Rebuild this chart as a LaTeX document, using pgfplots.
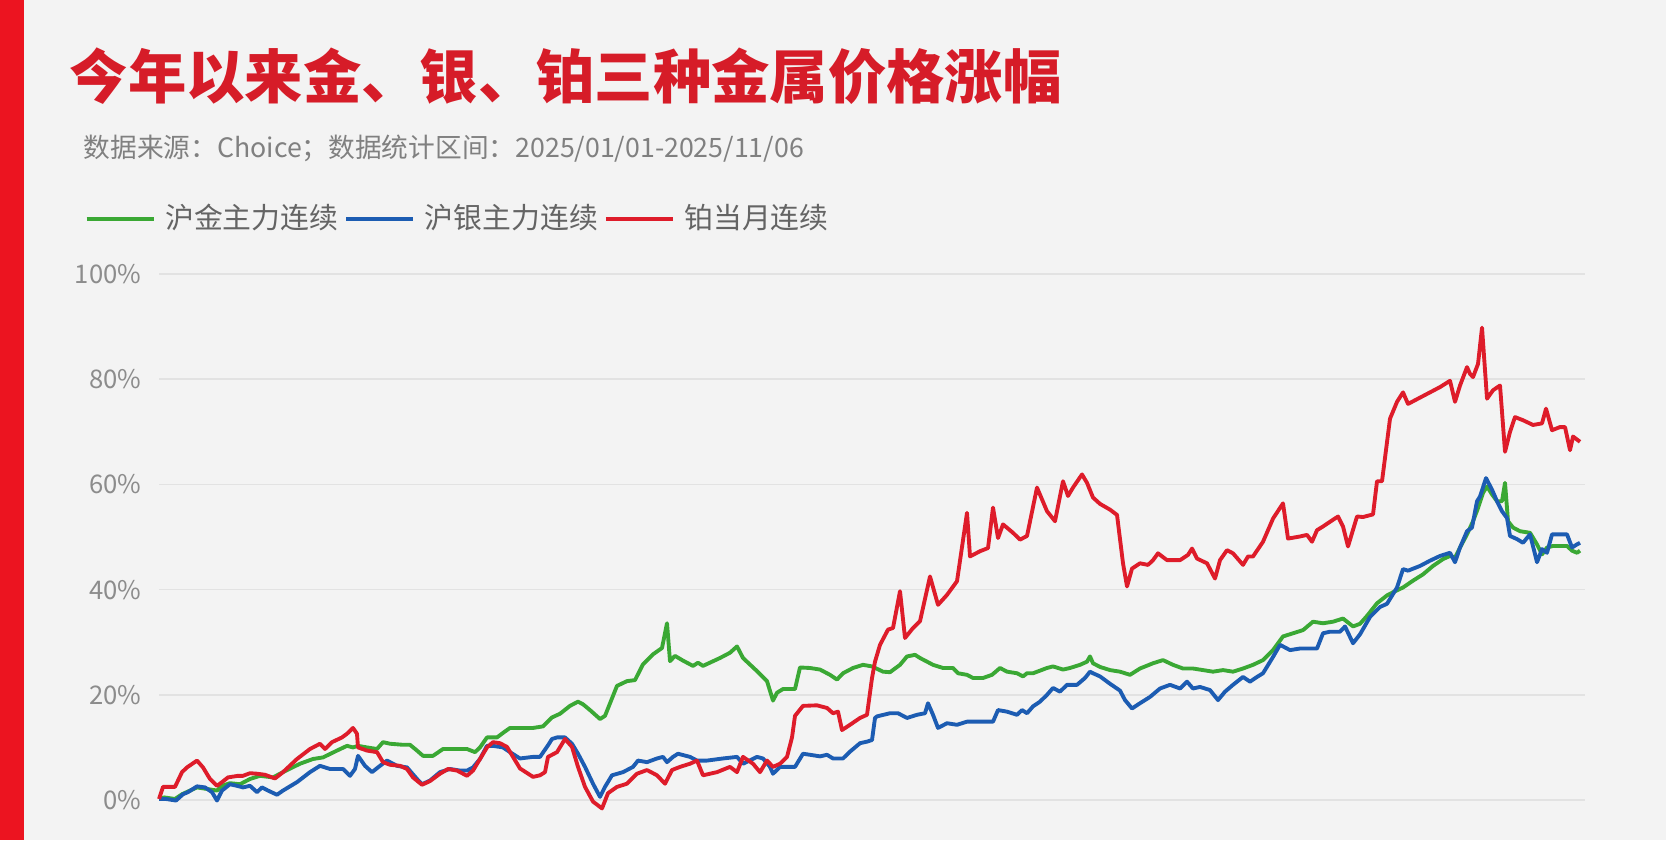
\documentclass[border=0pt]{standalone}
\usepackage{fontspec}
\setmainfont{Noto Sans CJK SC}
\usepackage{pgfplots}
\pgfplotsset{compat=1.18}
\definecolor{bgc}{RGB}{243,243,243}
\definecolor{barred}{RGB}{236,20,32}
\definecolor{titlered}{RGB}{214,28,40}
\definecolor{subgray}{RGB}{128,128,128}
\definecolor{leggray}{RGB}{100,100,100}
\definecolor{tickgray}{RGB}{140,140,140}
\definecolor{gridc}{RGB}{226,226,226}
\definecolor{gold}{RGB}{58,168,52}
\definecolor{silver}{RGB}{28,92,178}
\definecolor{plat}{RGB}{222,28,42}
\begin{document}
\begin{tikzpicture}[x=1cm,y=1cm]
\fill[bgc] (0,0) rectangle (16.66,8.40);
\fill[barred] (0,0) rectangle (0.24,8.40);
\node[anchor=west, inner sep=0pt, text=titlered, font=\fontsize{16.6pt}{18pt}\selectfont\bfseries] at (0.69,7.635) {今年以来金、银、铂三种金属价格涨幅};
\node[anchor=west, inner sep=0pt, text=subgray, font=\fontsize{7.6pt}{8.4pt}\selectfont] at (0.83,6.91) {数据来源：Choice；数据统计区间：2025/01/01-2025/11/06};
\begin{axis}[
  at={(1.59cm,0cm)}, anchor=south west,
  scale only axis, width=14.26cm, height=5.66cm,
  xmin=0, xmax=1426, ymin=-7.6, ymax=100,
  axis line style={draw=none}, tick style={draw=none}, major tick length=0pt,
  xtick=\empty, ytick={0,20,40,60,80,100},
  ymajorgrids, grid style={gridc, line width=0.5pt},
  /pgf/number format/assume math mode=true,
  yticklabel={\pgfmathprintnumber{\tick}\%},
  yticklabel style={font=\fontsize{7.3pt}{8pt}\selectfont, text=tickgray, inner sep=0pt, xshift=-0.17cm},
  clip=false,
  legend style={at={(-0.0527,1.0972)}, anchor=west, draw=none, fill=none, inner sep=0pt,
    font=\fontsize{8.2pt}{9pt}\selectfont, text=leggray, legend columns=3,
    nodes={inner sep=0pt},
    /tikz/every odd column/.append style={column sep=0.095cm},
    /tikz/every even column/.append style={column sep=0.06cm}},
  legend cell align=left,
  legend image code/.code={\draw[#1, line width=1.2pt] (0cm,0cm) -- (0.67cm,0cm);},
  every axis plot/.append style={line width=1.1pt, line join=round}
]
\addplot[gold, mark=none] coordinates {
(0,0.2)(5,0.5)(16,0.2)(23,1.1)(38,2.4)(48,2.1)(58,1.8)(63,2.7)(71,3.2)(81,3.0)(91,4.0)(101,4.6)(114,4.3)(124,5.3)(141,6.9)(154,7.8)(164,8.1)(178,9.4)(188,10.3)(194,10.0)(199,10.3)(208,10.0)(218,9.7)(224,11.0)(231,10.7)(244,10.5)(251,10.5)(258,9.4)(264,8.4)(274,8.4)(284,9.7)(294,9.7)(308,9.7)(316,9.1)(321,10.0)(328,11.9)(338,11.9)(345,12.9)
(351,13.7)(361,13.7)(374,13.7)(384,14.0)(393,15.7)(401,16.4)(411,17.9)(419,18.7)(424,18.2)(431,17.1)(441,15.4)(446,16.0)(458,21.7)(468,22.6)(476,22.8)(484,25.8)(494,27.7)(503,28.9)(508,33.6)(511,26.4)(516,27.4)(524,26.5)(534,25.5)(539,26.1)(544,25.5)(561,27.0)(571,28.0)(578,29.2)(584,27.0)(598,24.5)(608,22.6)(614,18.9)(618,20.4)(624,21.1)(636,21.1)(641,25.2)(651,25.1)(661,24.8)(671,23.8)(678,22.9)(684,24.1)(694,25.1)(704,25.7)(713,25.4)(724,24.4)(731,24.3)(741,25.7)(748,27.3)(756,27.6)(761,27.0)(768,26.3)(774,25.7)(784,25.1)(794,25.1)(799,24.1)(808,23.8)(814,23.2)(824,23.2)(833,23.8)(841,25.1)(848,24.4)(858,24.1)(864,23.5)(868,24.1)(874,24.1)(888,25.1)(894,25.4)(904,24.8)(911,25.1)(921,25.7)(928,26.3)(931,27.3)(934,26.0)
(941,25.3)(951,24.7)(961,24.4)(971,23.8)(981,25.0)(994,26.0)(1004,26.6)(1014,25.7)(1024,25.0)(1034,25.0)(1044,24.7)(1054,24.4)(1064,24.7)(1074,24.4)(1084,25.0)(1094,25.7)(1104,26.6)(1114,28.5)(1124,31.1)(1134,31.7)(1144,32.3)(1154,33.9)(1164,33.6)(1174,33.9)(1184,34.5)(1194,33.0)
(1201,33.5)(1208,35.0)(1218,37.4)(1228,38.9)(1234,39.5)(1244,40.4)(1254,41.7)(1264,42.9)(1274,44.5)(1284,45.8)(1291,46.4)(1296,46.1)(1301,48.0)(1308,50.5)(1314,53.0)(1319,55.5)(1324,58.4)(1328,59.6)(1333,58.1)(1338,56.8)(1343,56.8)(1346,60.3)(1349,53.0)(1354,51.8)(1361,51.1)(1371,50.8)(1378,48.6)(1383,46.7)(1388,48.0)(1394,48.3)(1401,48.3)(1408,48.3)(1413,47.4)(1418,47.0)(1421,47.4)
};
\addlegendentry{沪金主力连续}
\addplot[silver, mark=none] coordinates {
(0,0.2)(7,0.2)(17,-0.1)(24,1.1)(29,1.5)(38,2.6)(46,2.4)(53,1.5)(58,-0.1)(63,1.8)(71,3.0)(78,2.7)(84,2.4)(91,2.7)(98,1.5)(103,2.4)(109,1.8)(118,1.0)(124,1.8)(138,3.4)(151,5.3)(161,6.5)(171,5.9)(178,5.9)(184,5.9)(191,4.6)(196,5.9)(199,8.4)(206,6.5)(213,5.3)(221,6.5)(228,7.5)(238,6.5)(248,6.2)(258,4.0)(263,3.0)(271,3.7)(281,5.3)(291,5.9)(301,5.6)(308,5.6)(314,6.2)(321,7.8)(328,10.3)(334,10.3)(344,10.0)
(351,9.1)(361,7.9)(374,8.2)(381,8.2)(389,10.4)(393,11.6)(398,11.9)(406,11.9)(413,10.7)(419,8.8)(426,6.3)(434,3.1)(441,0.6)(446,2.5)(453,4.7)(464,5.3)(474,6.3)(479,7.5)(488,7.2)(498,7.9)(504,8.2)(508,7.2)(514,8.2)(519,8.8)(531,8.2)(538,7.5)(548,7.5)(564,7.9)(578,8.2)(584,6.9)(598,8.2)(604,7.9)(611,6.3)(614,5.0)(621,6.3)(636,6.3)(644,8.8)
(651,8.6)(661,8.3)(668,8.6)(674,7.9)(684,7.9)(691,9.2)(701,10.8)(708,11.1)(713,11.4)(716,15.6)(718,15.9)(731,16.5)(739,16.5)(748,15.6)(758,16.2)(766,16.5)(769,18.4)(774,16.2)(779,13.7)(788,14.6)(798,14.3)(808,14.9)(818,14.9)(828,14.9)(834,14.9)(839,17.1)(848,16.8)(858,16.2)(863,17.1)(868,16.5)(874,17.8)(881,18.7)(888,20.0)(894,21.3)(901,20.6)(908,21.9)(918,21.9)(926,23.2)(931,24.4)(934,24.1)
(941,23.5)(951,22.1)(961,20.8)(966,19.0)(973,17.4)(981,18.4)(991,19.6)(1001,21.2)(1011,21.9)(1021,21.2)(1028,22.5)(1034,21.2)(1041,21.5)(1051,20.9)(1059,19.0)(1066,20.6)(1074,21.9)(1084,23.4)(1091,22.5)(1098,23.4)(1104,24.1)(1114,27.2)(1121,29.5)(1131,28.5)(1141,28.8)(1148,28.8)(1158,28.8)(1164,31.7)(1171,32.0)(1181,32.0)(1186,33.0)(1194,29.8)
(1201,31.5)(1211,34.8)(1221,36.7)(1228,37.3)(1238,40.4)(1244,43.9)(1249,43.6)(1261,44.5)(1271,45.5)(1281,46.4)(1291,47.0)(1296,45.2)(1301,48.0)(1308,51.1)(1313,51.8)(1318,56.8)(1321,57.7)(1327,61.2)(1333,59.0)(1338,56.8)(1343,54.9)(1348,53.6)(1351,50.2)(1358,49.6)(1364,48.9)(1371,50.5)(1378,45.2)(1383,47.7)(1388,47.0)(1393,50.5)(1401,50.5)(1408,50.5)(1413,48.0)(1418,48.6)(1421,48.9)
};
\addlegendentry{沪银主力连续}
\addplot[plat, mark=none] coordinates {
(0,0.2)(4,2.5)(16,2.5)(23,5.3)(28,6.2)(38,7.5)(44,6.2)(51,4.0)(58,2.7)(63,3.4)(69,4.3)(79,4.6)(84,4.6)(91,5.1)(98,5.0)(106,4.8)(116,4.1)(124,5.3)(138,7.8)(151,9.7)(161,10.7)(166,9.7)(173,11.0)(183,11.9)(188,12.6)(194,13.7)(198,12.6)(199,10.0)(208,9.4)(218,9.1)(224,7.2)(231,6.7)(241,6.5)(248,5.9)(254,4.3)(263,2.9)(271,3.6)(281,5.0)(289,5.9)(298,5.6)(308,4.6)(314,5.6)(321,7.8)(328,10.0)(334,11.0)(341,10.8)
(348,10.1)(354,8.2)(361,6.0)(374,4.4)(381,4.7)(386,5.3)(389,8.2)(398,9.1)(406,11.6)(413,10.1)(419,6.3)(426,2.5)(434,-0.3)(443,-1.6)(449,1.3)(458,2.5)(468,3.1)(478,5.0)(488,5.7)(498,4.7)(506,3.1)(513,5.7)(521,6.3)(531,6.9)(538,7.5)(544,4.7)(558,5.3)(571,6.3)(578,5.3)(584,8.2)(594,6.9)(601,5.3)(608,7.5)(614,6.3)(621,6.9)(628,8.2)(633,11.9)(636,16.0)(644,17.9)
(658,18.0)(668,17.5)(674,16.5)(679,16.8)(683,13.3)(691,14.3)(701,15.6)(708,16.2)(713,23.2)(716,26.3)(721,29.5)(729,32.4)(734,32.7)(741,39.7)(746,30.8)(754,32.7)(761,34.0)(771,42.5)(779,37.1)(788,39.0)(798,41.6)(808,54.6)(811,46.3)(821,47.3)(829,47.9)(834,55.6)(839,49.8)(844,52.4)(854,50.8)(861,49.5)(868,50.2)(878,59.4)(888,54.9)(896,53.0)(904,60.6)(909,57.8)(914,59.4)(923,61.9)(928,60.3)(934,57.5)
(941,56.3)(951,55.2)(958,54.2)(964,45.0)(968,40.6)(973,44.0)(981,45.0)(989,44.7)(994,45.6)(999,46.9)(1008,45.6)(1021,45.6)(1029,46.6)(1033,47.8)(1038,45.9)(1048,45.0)(1056,42.1)(1061,45.6)(1068,47.5)(1074,46.9)(1084,44.7)(1089,46.3)(1094,46.3)(1104,49.1)(1114,53.5)(1124,56.4)(1129,49.7)(1141,50.1)(1148,50.4)(1153,49.1)(1158,51.3)(1164,52.0)(1171,52.9)(1179,53.9)(1184,52.0)(1189,48.2)(1198,53.9)
(1204,53.8)(1214,54.3)(1218,60.6)(1223,60.6)(1231,72.5)(1238,75.7)(1244,77.5)(1249,75.3)(1256,76.0)(1268,77.2)(1281,78.5)(1291,79.7)(1296,75.7)(1301,78.8)(1308,82.3)(1311,81.0)(1314,80.4)(1319,82.9)(1323,89.8)(1328,76.3)(1334,77.9)(1341,78.8)(1346,66.2)(1351,70.0)(1356,72.8)(1364,72.2)(1374,71.3)(1383,71.6)(1387,74.4)(1393,70.3)(1401,70.9)(1406,70.9)(1411,66.5)(1414,69.1)(1421,68.1)
};
\addlegendentry{铂当月连续}
\end{axis}
\end{tikzpicture}
\end{document}
